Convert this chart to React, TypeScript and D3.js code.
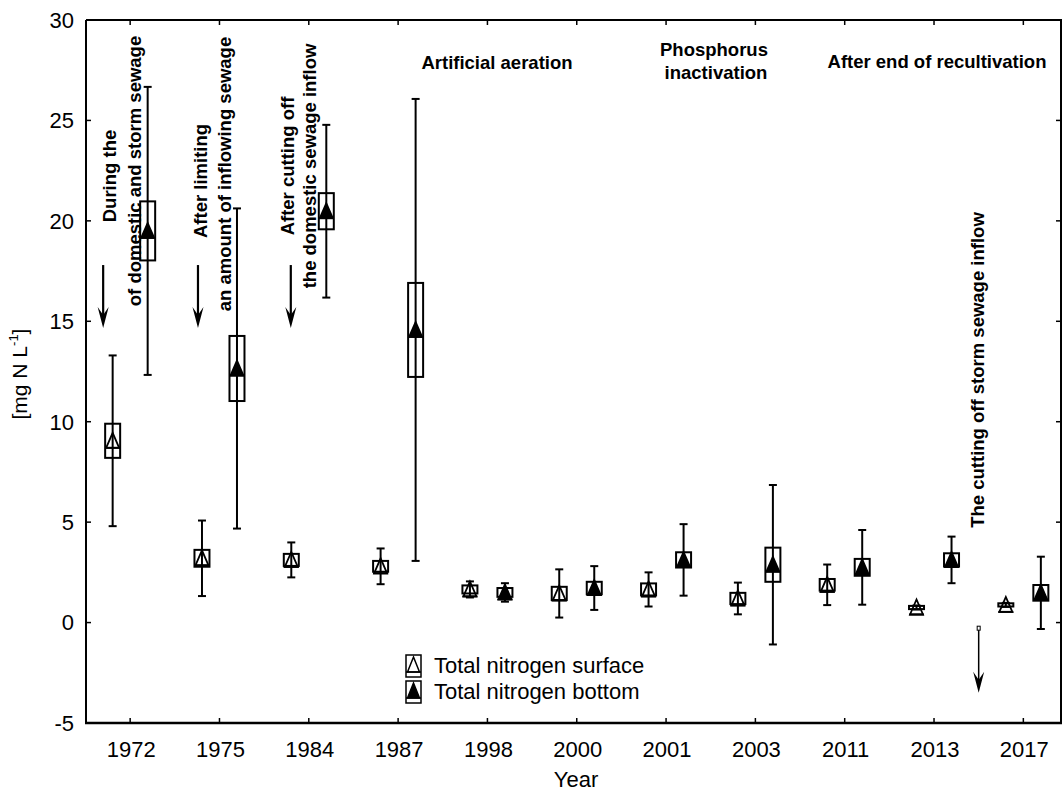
import * as d3 from 'd3';

const years = ['1972', '1975', '1984', '1987', '1998', '2000', '2001', '2003', '2011', '2013', '2017'];
const surfaceMean = [9.05, 3.2, 3.12, 2.8, 1.65, 1.45, 1.65, 1.2, 1.88, 0.75, 0.88];
const surfaceSE = [0.85, 0.42, 0.3, 0.27, 0.2, 0.33, 0.3, 0.28, 0.29, 0.08, 0.08];
const surfaceSD = [4.25, 1.88, 0.87, 0.89, 0.4, 1.2, 0.85, 0.79, 1.01, 0.1, 0.1];
const bottomMean = [19.5, 12.65, 20.48, 14.57, 1.5, 1.72, 3.12, 2.88, 2.75, 3.12, 1.48];
const bottomSE = [1.47, 1.62, 0.9, 2.34, 0.22, 0.31, 0.38, 0.85, 0.42, 0.33, 0.39];
const bottomSD = [7.17, 7.97, 4.3, 11.5, 0.46, 1.09, 1.78, 3.97, 1.86, 1.16, 1.8];
const yTicks = [-5, 0, 5, 10, 15, 20, 25, 30];

const W = 1062;
const H = 794;
const left = 86, right = 1061, top = 20, bottom = 723;
const FONT = "'Liberation Sans', Arial, sans-serif";

const x = d3.scaleBand<string>().domain(years).range([85.5, 1068]).padding(0);
const y = d3.scaleLinear().domain([-5, 30]).range([bottom, top]);
const cx = (yr: string) => (x(yr) || 0) + x.bandwidth() / 2;
const off = x.bandwidth() * 0.196;

function Marker({ px, py, filled }: { px: number; py: number; filled: boolean }) {
  return (
    <g>
      <path
        d={`M${px - 6.5},${py + 7} L${px},${py - 8} L${px + 6.5},${py + 7} Z`}
        fill={filled ? '#000' : 'none'}
        stroke="#000"
        strokeWidth={1.8}
      />
      <line x1={px - 7.5} x2={px + 7.5} y1={py + 7} y2={py + 7} stroke="#000" strokeWidth={2} />
    </g>
  );
}

function BoxPoint({ px, mean, se, sd, filled }: { px: number; mean: number; se: number; sd: number; filled: boolean }) {
  const hw = 7.5;
  const cap = 4;
  return (
    <g>
      <line x1={px} x2={px} y1={y(mean + sd)} y2={y(mean - sd)} stroke="#000" strokeWidth={2} />
      <line x1={px - cap} x2={px + cap} y1={y(mean + sd)} y2={y(mean + sd)} stroke="#000" strokeWidth={2} />
      <line x1={px - cap} x2={px + cap} y1={y(mean - sd)} y2={y(mean - sd)} stroke="#000" strokeWidth={2} />
      <rect x={px - hw} y={y(mean + se)} width={hw * 2} height={y(mean - se) - y(mean + se)} fill="none" stroke="#000" strokeWidth={2} />
      <Marker px={px} py={y(mean)} filled={filled} />
    </g>
  );
}

function DownArrow({ px, y1, y2, ring }: { px: number; y1: number; y2: number; ring?: boolean }) {
  return (
    <g>
      <line x1={px} x2={px} y1={y1} y2={y2 - 8} stroke="#000" strokeWidth={ring ? 1.5 : 2.2} />
      <path d={`M${px - 5.5},${y2 - 21} L${px},${y2} L${px + 5.5},${y2 - 21} L${px},${y2 - 13} Z`} fill="#000" />
      {ring && <rect x={px - 1.5} y={y1 - 2} width={3} height={4} fill="#fff" stroke="#000" strokeWidth={1} />}
    </g>
  );
}

const rotatedNotes = [
  { bx: 116, yc: 176, text: 'During the' },
  { bx: 141, yc: 171, text: 'of domestic and storm sewage' },
  { bx: 207, yc: 181, text: 'After limiting' },
  { bx: 231, yc: 174, text: 'an amount of inflowing sewage' },
  { bx: 294, yc: 166, text: 'After cutting off' },
  { bx: 316, yc: 166, text: 'the domestic sewage inflow' },
  { bx: 984, yc: 370, text: 'The cutting off storm sewage inflow' },
];

const flatNotes = [
  { xc: 497, by: 69, text: 'Artificial aeration' },
  { xc: 714, by: 56, text: 'Phosphorus' },
  { xc: 716, by: 79, text: 'inactivation' },
  { xc: 937, by: 68, text: 'After end of recultivation' },
];

const arrows = [
  { year: '1972', dx: -27, from: 17.8, to: 14.67 },
  { year: '1975', dx: -21.5, from: 17.8, to: 14.67 },
  { year: '1984', dx: -18, from: 17.8, to: 14.67 },
];

export default function App() {
  const lastArrowX = x('2017') || 0;
  return (
    <div style={{ position: 'absolute', left: 0, top: 0 }}>
      <svg width={W} height={H} style={{ display: 'block', background: '#fff' }} fontFamily={FONT}>
        {/* frame */}
        <line x1={left} x2={left} y1={top} y2={bottom} stroke="#000" strokeWidth={2} />
        <line x1={right} x2={right} y1={top} y2={bottom} stroke="#000" strokeWidth={2} />
        <line x1={left} x2={W} y1={top} y2={top} stroke="#000" strokeWidth={2} />
        <line x1={left - 1} x2={W} y1={bottom} y2={bottom} stroke="#000" strokeWidth={2.5} />

        {/* y ticks */}
        {yTicks.map((t) => (
          <g key={t}>
            <line x1={left} x2={left + 5} y1={y(t)} y2={y(t)} stroke="#000" strokeWidth={1.5} />
            <line x1={right - 5} x2={right} y1={y(t)} y2={y(t)} stroke="#000" strokeWidth={1.5} />
            <text x={74} y={y(t)} dy="0.36em" textAnchor="end" fontSize={22}>
              {t}
            </text>
          </g>
        ))}

        {/* x ticks */}
        {years.map((yr) => (
          <g key={yr}>
            <line x1={cx(yr)} x2={cx(yr)} y1={top} y2={top + 5} stroke="#000" strokeWidth={1.5} />
            <line x1={cx(yr)} x2={cx(yr)} y1={bottom} y2={bottom - 5} stroke="#000" strokeWidth={1.5} />
            <text x={cx(yr) + 1} y={757} textAnchor="middle" fontSize={22}>
              {yr}
            </text>
          </g>
        ))}

        {/* axis titles */}
        <text x={576} y={787} textAnchor="middle" fontSize={22}>
          Year
        </text>
        <text transform={`translate(27,374) rotate(-90)`} textAnchor="middle" fontSize={21}>
          [mg N L
          <tspan fontSize={13} dy={-9}>
            -1
          </tspan>
          <tspan dy={9}>]</tspan>
        </text>

        {/* data */}
        {years.map((yr, i) => (
          <g key={yr}>
            <BoxPoint px={cx(yr) - off} mean={surfaceMean[i]} se={surfaceSE[i]} sd={surfaceSD[i]} filled={false} />
            <BoxPoint px={cx(yr) + off} mean={bottomMean[i]} se={bottomSE[i]} sd={bottomSD[i]} filled={true} />
          </g>
        ))}

        {/* annotation arrows */}
        {arrows.map((a, i) => (
          <DownArrow key={i} px={cx(a.year) + a.dx} y1={y(a.from)} y2={y(a.to)} />
        ))}
        <DownArrow px={lastArrowX} y1={y(-0.28)} y2={y(-3.5)} ring />

        {/* annotation texts */}
        {rotatedNotes.map((n, i) => (
          <text
            key={i}
            transform={`translate(${n.bx},${n.yc}) rotate(-90)`}
            textAnchor="middle"
            fontSize={18.5}
            fontWeight="bold"
          >
            {n.text}
          </text>
        ))}
        {flatNotes.map((n, i) => (
          <text key={i} x={n.xc} y={n.by} textAnchor="middle" fontSize={18.5} fontWeight="bold">
            {n.text}
          </text>
        ))}

        {/* legend */}
        {[
          { label: 'Total nitrogen surface', filled: false, yc: 666 },
          { label: 'Total nitrogen bottom', filled: true, yc: 692 },
        ].map((l) => (
          <g key={l.label}>
            <rect x={406} y={l.yc - 11} width={15} height={22} fill="none" stroke="#000" strokeWidth={1.5} />
            <path
              d={`M${407.5},${l.yc + 6} L${413.5},${l.yc - 9} L${419.5},${l.yc + 6} Z`}
              fill={l.filled ? '#000' : 'none'}
              stroke="#000"
              strokeWidth={1.5}
            />
            <line x1={406} x2={421} y1={l.yc + 6} y2={l.yc + 6} stroke="#000" strokeWidth={1.5} />
            <text x={434} y={l.yc + 7} fontSize={22}>
              {l.label}
            </text>
          </g>
        ))}
      </svg>
    </div>
  );
}
